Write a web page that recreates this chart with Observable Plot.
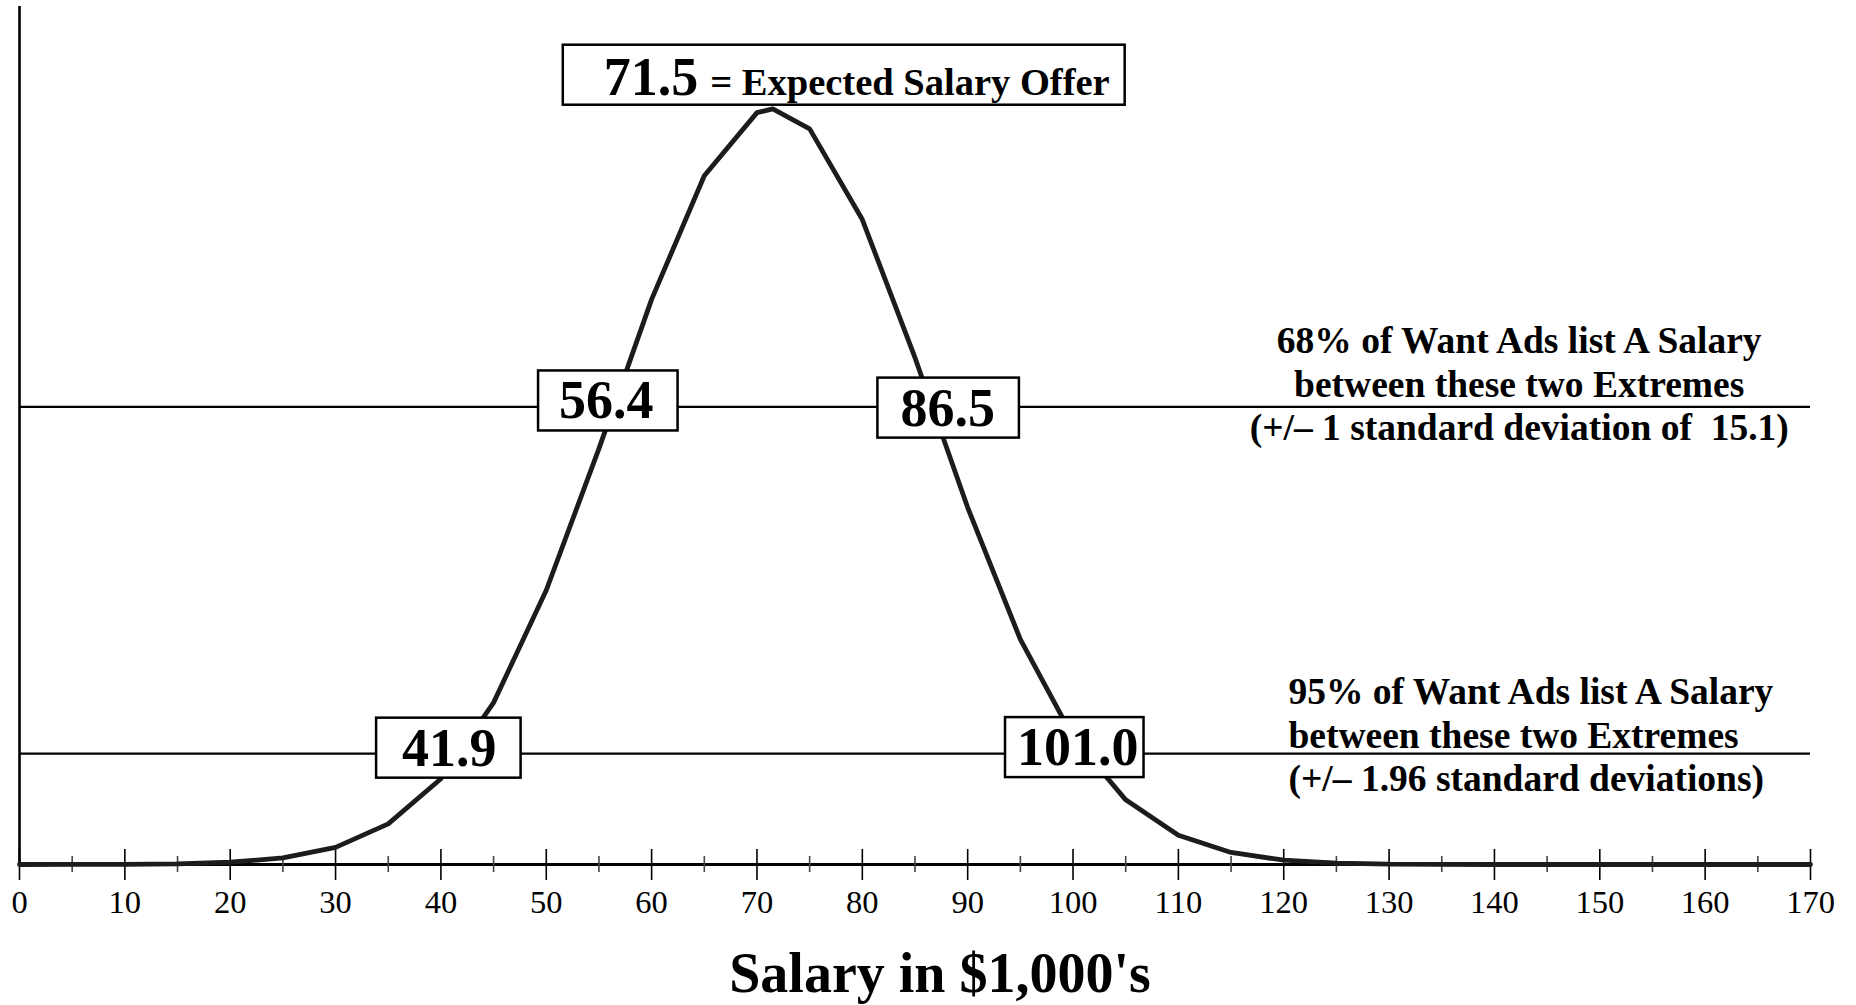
<!DOCTYPE html>
<html>
<head>
<meta charset="utf-8">
<script src="https://cdn.jsdelivr.net/npm/d3@7"></script>
<script src="https://cdn.jsdelivr.net/npm/@observablehq/plot@0.6"></script>
<style>
  html, body { margin: 0; padding: 0; background: #ffffff; }
  #chart svg { display: block; }
</style>
</head>
<body>
<div id="chart"></div>
<script>
// ---------- data ----------
const salary = [0, 5, 10, 15, 20, 25, 30, 35, 40, 45, 50, 55, 60, 65, 70, 71.5, 75, 80, 85, 90, 95, 100, 105, 110, 115, 120, 125, 130, 135, 140, 145, 150, 155, 160, 165, 170];
const density = [0, 0.002, 0.007, 0.024, 0.079, 0.23, 0.60, 1.42, 3.00, 5.66, 9.59, 14.54, 19.76, 24.08, 26.29, 26.42, 25.72, 22.55, 17.72, 12.48, 7.87, 4.45, 2.26, 1.02, 0.42, 0.15, 0.05, 0.015, 0.004, 0, 0, 0, 0, 0, 0, 0];

const majorTicks = [0, 10, 20, 30, 40, 50, 60, 70, 80, 90, 100, 110, 120, 130, 140, 150, 160, 170];
const minorTicks = [5, 15, 25, 35, 45, 55, 65, 75, 85, 95, 105, 115, 125, 135, 145, 155, 165];
const tickLabels = ["0", "10", "20", "30", "40", "50", "60", "70", "80", "90", "100", "110", "120", "130", "140", "150", "160", "170"];

const bandLevels = [16.0, 3.88];          // curve height at ±1 sd and ±1.96 sd

const boxLabels = ["56.4", "86.5", "41.9", "101.0"];
const boxLabelX = [55.7, 88.1, 40.8, 100.45];
const boxLabelY = [16.2, 15.95, 4.06, 4.08];

const meanValue = "71.5";
const meanText = "= Expected Salary Offer";
const meanLabelX = 65.0;
const meanLabelY = 27.52;

const note68 = ["68% of Want Ads list A Salary", "between these two Extremes", "(+/\u2013 1 standard deviation of\u00a0 15.1)"];
const note68X = 142.35;
const note68Y = 16.85;
const note95 = ["95% of Want Ads list A Salary", "between these two Extremes", "(+/\u2013 1.96 standard deviations)"];
const note95X = 120.45;
const note95Y = 4.58;

const axisTitle = "Salary in $1,000's";

// ---------- build ----------
const curve = salary.map((s, i) => ({salary: s, density: density[i]}));
const majors = majorTicks.map((t, i) => ({t, label: tickLabels[i]}));
const boxes = boxLabels.map((l, i) => ({label: l, x: boxLabelX[i], y: boxLabelY[i]}));

const numSize = 54;
const smallSize = 38.5;
const noteSize = 37.5;

const chart = Plot.plot({
  width: 1856,
  height: 1005,
  marginLeft: 19,
  marginRight: 46,
  marginTop: 6,
  marginBottom: 141,
  x: {domain: [0, 170], axis: null},
  y: {domain: [0, 30], axis: null},
  style: {fontFamily: "'Liberation Serif', 'Times New Roman', serif", background: "#ffffff", color: "#000000", overflow: "visible"},
  marks: [
    // y axis line
    Plot.ruleX([0], {stroke: "#000", strokeWidth: 2.6}),
    // band lines
    Plot.ruleY(bandLevels, {stroke: "#000", strokeWidth: 2.2}),
    // baseline
    Plot.ruleY([0], {stroke: "#000", strokeWidth: 2.8}),
    // ticks
    Plot.ruleX(minorTicks, {x: d => d, y1: () => 0, y2: () => 0, insetTop: -8, insetBottom: -8, stroke: "#444", strokeWidth: 1.6}),
    Plot.ruleX(majors, {x: "t", y1: () => 0, y2: () => 0, insetTop: -15, insetBottom: -16, stroke: "#000", strokeWidth: 1.6}),
    // tick labels
    Plot.text(majors, {x: "t", text: "label", frameAnchor: "bottom", dy: 38, fontSize: 32.5, fill: "#000", lineAnchor: "middle"}),
    // distribution curve
    Plot.line(curve, {x: "salary", y: "density", stroke: "#1c1c1c", strokeWidth: 4.8, strokeLinejoin: "miter"}),
    // boxed values
    Plot.text(boxes, {x: "x", y: "y", text: "label", fontSize: numSize, fontWeight: "bold", fill: "#000", ariaDescription: "boxed"}),
    // mean label (two parts)
    Plot.text([{x: meanLabelX, y: meanLabelY, t: meanValue}], {x: "x", y: "y", text: "t", textAnchor: "end", dx: -6, fontSize: numSize, fontWeight: "bold", fill: "#000", ariaDescription: "boxed-top"}),
    Plot.text([{x: meanLabelX, y: meanLabelY, t: meanText}], {x: "x", y: "y", text: "t", textAnchor: "start", dx: 6, dy: 0.32 * (numSize - smallSize), fontSize: smallSize, fontWeight: "bold", fill: "#000", ariaDescription: "boxed-top"}),
    // notes
    Plot.text([{x: note68X, y: note68Y, t: note68.join("\n")}], {x: "x", y: "y", text: "t", textAnchor: "middle", lineAnchor: "middle", lineHeight: 1.17, fontSize: noteSize, fontWeight: "bold", fill: "#000"}),
    Plot.text([{x: note95X, y: note95Y, t: note95.join("\n")}], {x: "x", y: "y", text: "t", textAnchor: "start", lineAnchor: "middle", lineHeight: 1.17, fontSize: noteSize, fontWeight: "bold", fill: "#000"}),
    // axis title
    Plot.text([axisTitle], {frameAnchor: "bottom", dx: 25, dy: 127, fontSize: 56, fontWeight: "bold", fill: "#000"})
  ]
});

document.getElementById("chart").append(chart);

// ---------- boxes around the boxed labels ----------
const NS = "http://www.w3.org/2000/svg";
const padding = {
  "56.4": [21, 24, 0, 0],
  "86.5": [23, 24, 0, 0],
  "41.9": [26, 24, 0, 0],
  "101.0": [12, 5, 0, 0],
  "top": [41, 15, 2, -2]
};
function makeRect(x, y, w, h, before) {
  const r = document.createElementNS(NS, "rect");
  r.setAttribute("x", x);
  r.setAttribute("y", y);
  r.setAttribute("width", w);
  r.setAttribute("height", h);
  r.setAttribute("fill", "#fff");
  r.setAttribute("stroke", "#000");
  r.setAttribute("stroke-width", 2.5);
  before.parentNode.insertBefore(r, before);
}
const sr = chart.getBoundingClientRect();
chart.querySelectorAll('g[aria-description="boxed"]').forEach(g => {
  g.querySelectorAll("text").forEach(t => {
    const r = t.getBoundingClientRect();
    const [pl, pr, pt, pb] = padding[t.textContent] || [20, 20, 0, 0];
    makeRect(r.left - sr.left - pl, r.top - sr.top - pt, r.width + pl + pr, r.height + pt + pb, g);
  });
});
const topGroups = chart.querySelectorAll('g[aria-description="boxed-top"]');
if (topGroups.length) {
  let x0 = Infinity, y0 = Infinity, x1 = -Infinity, y1 = -Infinity;
  topGroups.forEach(g => g.querySelectorAll("text").forEach(t => {
    const r = t.getBoundingClientRect();
    x0 = Math.min(x0, r.left); y0 = Math.min(y0, r.top);
    x1 = Math.max(x1, r.right); y1 = Math.max(y1, r.bottom);
  }));
  const [pl, pr, pt, pb] = padding.top;
  makeRect(x0 - sr.left - pl, y0 - sr.top - pt, x1 - x0 + pl + pr, y1 - y0 + pt + pb, topGroups[0]);
}
</script>
</body>
</html>
